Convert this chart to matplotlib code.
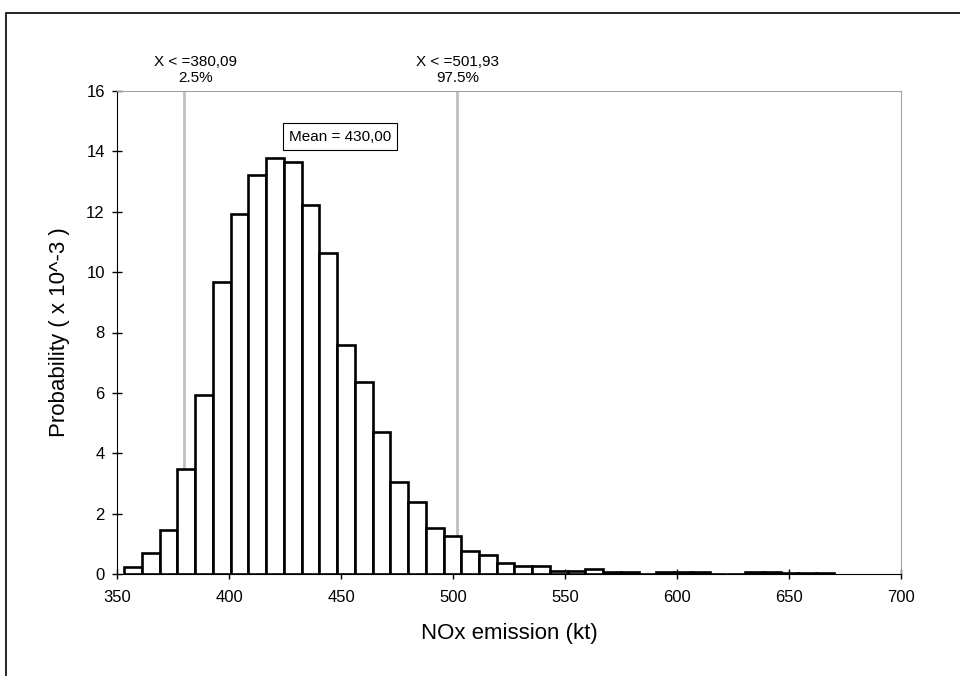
import matplotlib
matplotlib.use("Agg")
import matplotlib.pyplot as plt
from matplotlib.patches import Rectangle

plt.rcParams["font.family"] = ["Liberation Sans", "DejaVu Sans"]

# histogram: bin edges start and width (kt), heights in 10^-3
bin_start = 353.2
bin_width = 7.92
heights = [0.22, 0.68, 1.45, 3.48, 5.93, 9.67, 11.92, 13.23, 13.77, 13.65,
           12.24, 10.65, 7.6, 6.37, 4.69, 3.04, 2.39, 1.53, 1.26, 0.77,
           0.63, 0.37, 0.25, 0.25, 0.11, 0.11, 0.15, 0.06, 0.06, 0.0,
           0.05, 0.05, 0.05, 0.0, 0.0, 0.05, 0.05, 0.02, 0.02, 0.02]
lefts = [bin_start + i * bin_width for i in range(len(heights))]

p_low, p_high = 380.09, 501.93
low_label = ["X < =380,09", "2.5%"]
high_label = ["X < =501,93", "97.5%"]
mean_value = 430.00

xticks = [350, 400, 450, 500, 550, 600, 650, 700]
yticks = [0, 2, 4, 6, 8, 10, 12, 14, 16]

W, H = 960, 676
fig = plt.figure(figsize=(W / 100, H / 100), dpi=100)
ax = fig.add_axes([117 / W, 1 - 574 / H, (901 - 117) / W, (574 - 91) / H])

# outer frame (cut off on the right and bottom like the original)
fig.patches.append(Rectangle((6 / W, -0.1), 1.2, 1 - 13 / H + 0.1,
                             transform=fig.transFigure, fill=False,
                             edgecolor="black", linewidth=1.2))

ax.bar(lefts, heights, width=bin_width, align="edge", color="white",
       edgecolor="black", linewidth=1.9, zorder=3)

for x in (p_low, p_high):
    ax.axvline(x, color="#c0c0c0", linewidth=2, zorder=2)

ax.set_xlim(350, 700)
ax.set_ylim(0, 16)
ax.set_xticks(xticks)
ax.set_yticks(yticks)
ax.tick_params(direction="inout", length=7.5, width=1, labelsize=12)
ax.tick_params(axis="x", pad=8)
ax.tick_params(axis="y", pad=5)

ax.spines["left"].set_color("black")
ax.spines["bottom"].set_color("black")
ax.spines["top"].set_color("#a0a0a0")
ax.spines["right"].set_color("#a0a0a0")

fig.text(509 / W, 1 - 634 / H, "NOx emission (kt)", fontsize=16,
         ha="center", va="center")
fig.text(60 / W, 1 - 332 / H, "Probability ( x 10^-3 )", fontsize=16,
         ha="center", va="center", rotation=90)

# percentile labels above the plot area
ax.text(385.0, 16.2, "\n".join(low_label), ha="center", va="bottom",
        fontsize=11, linespacing=1.2, clip_on=False)
ax.text(p_high, 16.2, "\n".join(high_label), ha="center", va="bottom",
        fontsize=11, linespacing=1.2, clip_on=False)

ax.text(426.7, 14.49, f"Mean = {mean_value:.2f}".replace(".", ","),
        ha="left", va="center", fontsize=11, zorder=4,
        bbox=dict(boxstyle="square,pad=0.4", facecolor="white",
                  edgecolor="black", linewidth=0.8))

fig.savefig("out.png", dpi=100)
